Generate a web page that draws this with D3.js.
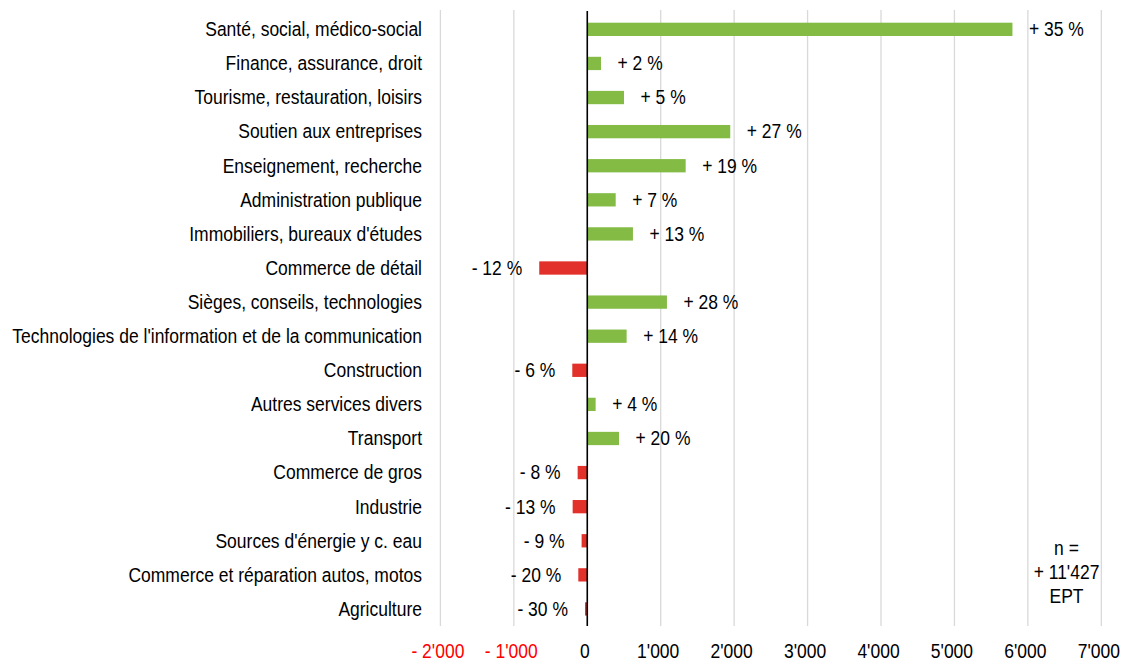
<!DOCTYPE html>
<html>
<head>
<meta charset="utf-8">
<script src="https://cdn.jsdelivr.net/npm/d3@7"></script>
<style>
  body { margin: 0; background: #fff; }
  svg text { font-family: "Liberation Sans Narrow", "Arial Narrow", "Liberation Sans", Arial, sans-serif; fill: #000; }
</style>
</head>
<body>
<svg id="chart" width="1126" height="661"></svg>
<script>
// branches, top to bottom
const categories = [
  'Santé, social, médico-social',
  'Finance, assurance, droit',
  'Tourisme, restauration, loisirs',
  'Soutien aux entreprises',
  'Enseignement, recherche',
  'Administration publique',
  "Immobiliers, bureaux d'études",
  'Commerce de détail',
  'Sièges, conseils, technologies',
  "Technologies de l'information et de la communication",
  'Construction',
  'Autres services divers',
  'Transport',
  'Commerce de gros',
  'Industrie',
  "Sources d'énergie y c. eau",
  'Commerce et réparation autos, motos',
  'Agriculture'
];
// variation EPT (absolute)
const values = [5790, 187, 500, 1947, 1340, 387, 622, -654, 1085, 536, -204, 114, 432, -131, -199, -77, -122, -31];
// variation in %
const percents = [35, 2, 5, 27, 19, 7, 13, -12, 28, 14, -6, 4, 20, -8, -13, -9, -20, -30];
const xTicks = [-2000, -1000, 0, 1000, 2000, 3000, 4000, 5000, 6000, 7000];
const noteLines = ['n =', "+ 11'427", 'EPT'];

const svg = d3.select('#chart');
const fontSize = 19.5;

const x = d3.scaleLinear().domain([-2000, 7000]).range([440.4, 1101.3]);
const y = d3.scaleBand().domain(categories).range([12.3, 626]).paddingInner(0.61).paddingOuter(0.305);

const fmt = v => {
  const s = d3.format(',')(Math.abs(v)).replace(/,/g, "'");
  return v < 0 ? '- ' + s : s;
};

// the original font is a narrow one: squeeze the fallback to the same width
const probe = svg.append('text').style('font-size', fontSize + 'px').text(categories[9]);
const sx = 410 / probe.node().getComputedTextLength();
probe.remove();

// text placed at (px, py), squeezed horizontally
function label(g, px, py, anchor) {
  return g.append('text')
    .attr('transform', `translate(${px},${py}) scale(${sx},1)`)
    .attr('dy', '0.35em')
    .attr('text-anchor', anchor)
    .style('font-size', fontSize + 'px');
}

// gridlines
svg.append('g')
  .selectAll('line')
  .data(xTicks.filter(d => d !== 0))
  .enter()
  .append('line')
  .attr('x1', d => x(d))
  .attr('x2', d => x(d))
  .attr('y1', 10)
  .attr('y2', 626)
  .style('stroke', '#d9d9d9')
  .style('stroke-width', 1.3);

// bars
svg.append('g')
  .selectAll('rect')
  .data(values)
  .enter()
  .append('rect')
  .attr('x', d => x(Math.min(0, d)))
  .attr('width', d => Math.abs(x(d) - x(0)))
  .attr('y', (d, i) => y(categories[i]))
  .attr('height', y.bandwidth())
  .style('fill', d => (d < 0 ? '#e2302a' : '#83bb45'));

// zero line
svg.append('line')
  .attr('x1', x(0))
  .attr('x2', x(0))
  .attr('y1', 11)
  .attr('y2', 626)
  .style('stroke', '#000')
  .style('stroke-width', 1.6);

const labels = svg.append('g');

// category labels
categories.forEach(c => {
  label(labels, 422, y(c) + y.bandwidth() / 2, 'end').text(c);
});

// percent labels
values.forEach((v, i) => {
  const p = percents[i];
  label(labels, v < 0 ? x(v) - 17 : x(v) + 16.5, y(categories[i]) + y.bandwidth() / 2, v < 0 ? 'end' : 'start')
    .text((p < 0 ? '- ' : '+ ') + Math.abs(p) + ' %');
});

// x axis labels
xTicks.forEach(t => {
  label(labels, x(t) - 2.5, 651, 'middle')
    .style('fill', t < 0 ? '#ff0000' : '#000')
    .text(fmt(t));
});

// note
noteLines.forEach((l, i) => {
  label(labels, 1066.5, 548 + i * 24, 'middle').text(l);
});
</script>
</body>
</html>
